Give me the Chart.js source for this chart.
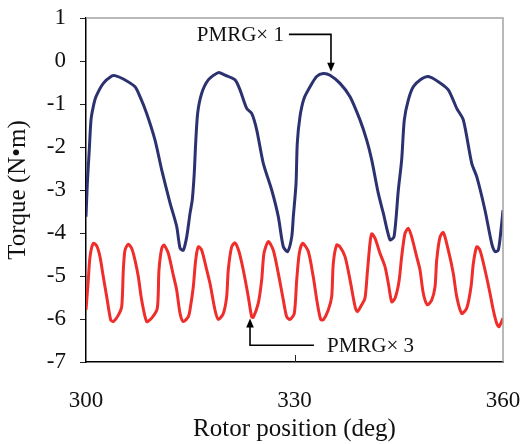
<!DOCTYPE html>
<html>
<head>
<meta charset="utf-8">
<script src="https://cdn.jsdelivr.net/npm/chart.js@4/dist/chart.umd.min.js"></script>
<style>
  html, body { margin: 0; padding: 0; background: #fff; }
  #torque { display: block; }
</style>
</head>
<body>
<canvas id="torque" width="524" height="444"></canvas>
<script>
// rotor position (deg) and torque (N·m), PMRG x1
const rotorX1 = [300.0, 300.19, 300.47, 300.72, 301.05, 301.44, 302.49, 303.70, 304.17, 305.37, 307.05, 307.77, 308.73, 309.93, 310.89, 312.09, 313.05, 313.53, 314.0, 314.49, 314.96, 315.29, 315.58, 315.78, 316.07, 316.65, 317.60, 319.04, 320.0, 321.44, 322.16, 323.12, 323.84, 324.56, 325.51, 326.72, 327.67, 328.39, 329.02, 329.60, 329.83, 330.22, 330.40, 330.79, 331.37, 332.23, 333.19, 334.14, 335.11, 336.55, 337.99, 339.42, 340.39, 341.11, 342.06, 342.78, 343.74, 344.32, 344.94, 345.42, 345.80, 346.37, 347.09, 348.06, 349.25, 350.69, 352.13, 353.34, 354.29, 355.50, 356.22, 357.41, 358.37, 358.85, 359.32, 359.71, 360.0];
const torqueX1 = [-3.62, -2.85, -2.07, -1.37, -1.06, -0.83, -0.52, -0.35, -0.34, -0.42, -0.60, -0.83, -1.22, -1.84, -2.53, -3.30, -3.85, -4.35, -4.40, -4.09, -3.55, -3.23, -2.60, -1.91, -1.21, -0.75, -0.44, -0.27, -0.33, -0.44, -0.67, -1.10, -1.22, -1.60, -2.38, -3.00, -3.62, -4.32, -4.43, -4.09, -3.62, -2.85, -1.91, -1.29, -0.87, -0.60, -0.36, -0.29, -0.33, -0.52, -0.83, -1.37, -1.84, -2.30, -3.08, -3.54, -4.16, -4.09, -3.00, -2.30, -1.37, -0.91, -0.60, -0.44, -0.36, -0.48, -0.67, -1.10, -1.37, -2.38, -2.69, -3.47, -4.24, -4.43, -4.40, -3.93, -3.47];

// PMRG x3
const rotorX3 = [300.00, 300.33, 300.58, 301.05, 301.54, 302.01, 302.49, 302.98, 303.55, 303.93, 304.65, 305.14, 305.37, 305.61, 306.09, 306.58, 307.05, 307.53, 308.01, 308.73, 309.45, 310.26, 310.50, 310.89, 311.22, 311.84, 312.56, 313.05, 313.53, 314.00, 314.72, 314.96, 315.44, 315.78, 316.16, 316.65, 317.37, 317.84, 318.56, 319.04, 319.76, 320.24, 320.47, 320.96, 321.44, 322.01, 322.63, 323.35, 323.84, 324.07, 324.79, 325.28, 325.61, 326.23, 326.95, 327.67, 328.39, 328.88, 329.35, 329.97, 330.32, 330.69, 331.18, 331.99, 332.70, 333.28, 333.77, 334.14, 334.86, 335.35, 335.58, 336.07, 336.55, 337.27, 337.99, 338.71, 339.04, 339.67, 340.14, 340.47, 340.86, 341.11, 341.58, 342.30, 343.02, 343.50, 343.99, 344.46, 345.04, 345.42, 345.90, 346.37, 346.86, 347.58, 348.06, 348.53, 349.11, 349.74, 350.22, 350.46, 350.94, 351.42, 352.13, 352.85, 353.34, 354.06, 354.78, 355.40, 355.73, 356.22, 356.69, 357.41, 358.13, 358.60, 359.09, 359.42, 360.00];
const torqueX3 = [-5.79, -5.09, -4.55, -4.24, -4.30, -4.55, -5.02, -5.48, -6.02, -6.06, -5.91, -5.71, -4.86, -4.40, -4.26, -4.36, -4.63, -5.02, -5.56, -6.06, -5.98, -5.75, -4.86, -4.36, -4.28, -4.47, -4.98, -5.33, -5.87, -6.06, -5.95, -5.79, -5.25, -4.63, -4.32, -4.40, -4.86, -5.17, -5.79, -6.01, -5.87, -5.48, -4.86, -4.32, -4.23, -4.43, -4.86, -5.48, -5.95, -5.96, -5.63, -5.09, -4.47, -4.20, -4.40, -4.94, -5.56, -5.95, -6.01, -5.87, -5.09, -4.47, -4.24, -4.43, -5.02, -5.63, -6.01, -6.02, -5.79, -5.48, -4.71, -4.28, -4.32, -4.55, -5.09, -5.71, -5.83, -5.67, -5.52, -4.94, -4.24, -4.02, -4.12, -4.47, -4.78, -5.17, -5.60, -5.52, -5.12, -4.55, -4.01, -3.89, -4.09, -4.55, -4.86, -5.40, -5.67, -5.56, -5.25, -4.63, -4.09, -3.99, -4.40, -4.94, -5.48, -5.87, -5.75, -5.25, -4.71, -4.32, -4.40, -4.86, -5.40, -5.79, -6.10, -6.18, -5.98];

const xTicks = [300, 330, 360];
const yTicks = [1, 0, -1, -2, -3, -4, -5, -6, -7];

const serif = '"Liberation Serif", "Times New Roman", serif';

// callout labels with elbow arrows, given in axis units
const callouts = [
  { text: 'PMRG\u00d7 1', from: [329.2, 0.62], elbow: [335.25, 0.62], tip: [335.25, -0.25], align: 'right' },
  { text: 'PMRG\u00d7 3', from: [332.8, -6.61], elbow: [323.6, -6.61], tip: [323.6, -5.99], align: 'left' }
];

const toPoints = (xs, ys) => xs.map((x, i) => ({ x: x, y: ys[i] }));

// keep edge tick labels from shrinking the plot area
const noEdgePadding = s => {
  s.paddingTop = 0;
  s.paddingBottom = 0;
  s.paddingLeft = 0;
  s.paddingRight = 0;
};

const frameAndCallouts = {
  id: 'frameAndCallouts',
  afterDatasetsDraw(chart) {
    const { ctx, chartArea: a, scales: { x, y } } = chart;
    ctx.save();
    // grey top / right frame
    ctx.strokeStyle = '#a3a3a3';
    ctx.lineWidth = 1.5;
    ctx.beginPath();
    ctx.moveTo(a.left, a.top);
    ctx.lineTo(a.right, a.top);
    ctx.lineTo(a.right, a.bottom);
    ctx.stroke();

    // inward tick at the middle of the x axis
    ctx.strokeStyle = '#222';
    ctx.lineWidth = 1;
    const mx = Math.round(x.getPixelForValue(330)) + 0.5;
    ctx.beginPath();
    ctx.moveTo(mx, a.bottom);
    ctx.lineTo(mx, a.bottom - 7);
    ctx.stroke();

    ctx.font = '21px ' + serif;
    ctx.fillStyle = '#111';
    ctx.textBaseline = 'middle';
    callouts.forEach(c => {
      const p0 = [x.getPixelForValue(c.from[0]), y.getPixelForValue(c.from[1])];
      const p1 = [x.getPixelForValue(c.elbow[0]), y.getPixelForValue(c.elbow[1])];
      const p2 = [x.getPixelForValue(c.tip[0]), y.getPixelForValue(c.tip[1])];
      const dir = Math.sign(p2[1] - p1[1]);
      ctx.strokeStyle = '#000';
      ctx.lineWidth = 1.6;
      ctx.beginPath();
      ctx.moveTo(p0[0], p0[1]);
      ctx.lineTo(p1[0], p1[1]);
      ctx.lineTo(p2[0], p2[1] - dir * 6);
      ctx.stroke();
      ctx.fillStyle = '#000';
      ctx.beginPath();
      ctx.moveTo(p2[0], p2[1]);
      ctx.lineTo(p2[0] - 3.8, p2[1] - dir * 9);
      ctx.lineTo(p2[0] + 3.8, p2[1] - dir * 9);
      ctx.closePath();
      ctx.fill();
      ctx.fillStyle = '#111';
      ctx.textAlign = c.align;
      const tx = c.align === 'right' ? p0[0] - 5 : p0[0] + 13;
      ctx.fillText(c.text, tx, p0[1] + 1);
    });
    ctx.restore();
  }
};

new Chart(document.getElementById('torque'), {
  type: 'line',
  data: {
    datasets: [
      {
        label: 'PMRG\u00d71',
        data: toPoints(rotorX1, torqueX1),
        borderColor: '#2c3170',
        borderWidth: 3,
        pointRadius: 0,
        tension: 0.25,
        fill: false
      },
      {
        label: 'PMRG\u00d73',
        data: toPoints(rotorX3, torqueX3),
        borderColor: '#ef2d2b',
        borderWidth: 3,
        pointRadius: 0,
        tension: 0.25,
        fill: false
      }
    ]
  },
  options: {
    responsive: false,
    devicePixelRatio: 1,
    animation: false,
    events: [],
    layout: { padding: { top: 18, right: 21, left: 0, bottom: 0 } },
    plugins: {
      legend: { display: false },
      tooltip: { enabled: false }
    },
    scales: {
      x: {
        type: 'linear',
        min: 300,
        max: 360,
        afterBuildTicks: s => { s.ticks = xTicks.map(v => ({ value: v })); },
        afterFit: s => { s.height = 82; noEdgePadding(s); },
        grid: { display: false },
        border: { display: true, color: '#000', width: 1.5 },
        ticks: {
          color: '#111',
          font: { family: serif, size: 23 },
          padding: 17,
          maxRotation: 0
        },
        title: {
          display: true,
          text: 'Rotor position (deg)',
          color: '#111',
          font: { family: serif, size: 25 },
          padding: { top: 0, bottom: 0 }
        }
      },
      y: {
        min: -7,
        max: 1,
        afterBuildTicks: s => { s.ticks = yTicks.map(v => ({ value: v })); },
        afterFit: s => { s.width = 86; noEdgePadding(s); },
        grid: {
          drawOnChartArea: false,
          drawTicks: true,
          tickLength: 6,
          color: '#222',
          lineWidth: 1
        },
        border: { display: true, color: '#000', width: 1.5 },
        ticks: {
          color: '#111',
          font: { family: serif, size: 23 },
          padding: 14
        },
        title: {
          display: true,
          text: 'Torque (N\u2022m)',
          color: '#111',
          font: { family: serif, size: 25 },
          padding: { top: 3, bottom: 0 }
        }
      }
    }
  },
  plugins: [frameAndCallouts]
});
</script>
</body>
</html>
